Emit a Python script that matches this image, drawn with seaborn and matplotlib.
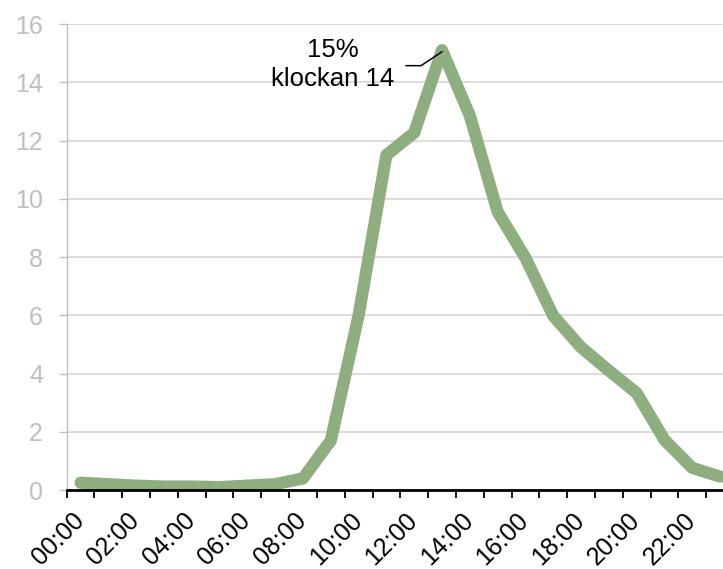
import matplotlib
matplotlib.use("Agg")
import matplotlib.pyplot as plt
import matplotlib.transforms as mtransforms
import seaborn as sns
import numpy as np
import pandas as pd

# Share of the day's total per hour (percent)
hours = [f"{h:02d}:00" for h in range(24)]
share = [0.25, 0.2, 0.15, 0.12, 0.12, 0.1, 0.15, 0.2, 0.4, 1.7, 6.0, 11.5,
         12.27, 15.1, 12.85, 9.55, 7.97, 5.98, 4.9, 4.1, 3.33, 1.72, 0.76, 0.46]
peak_label_hour = "klockan 14"
y_ticks = [0, 2, 4, 6, 8, 10, 12, 14, 16]

df = pd.DataFrame({"pos": np.arange(len(hours)), "hour": hours, "share": share})

sns.set_theme(style="white")
plt.rcParams["font.family"] = ["Liberation Sans", "DejaVu Sans"]

fig = plt.figure(figsize=(7.23, 5.69), dpi=100)
ax = fig.add_axes([0.0922, 0.1388, 0.923, 0.819])

green = "#8EAE80"
sns.lineplot(data=df, x="pos", y="share", ax=ax, color=green, linewidth=8.8,
             solid_capstyle="round", solid_joinstyle="round", zorder=3)

ax.set_xlim(-0.5, len(hours) - 0.5)
ax.set_ylim(y_ticks[0], y_ticks[-1])
ax.set_xlabel("")
ax.set_ylabel("")

# y axis: light grey labels, gridlines
grey = "#BFBFBF"
ax.set_yticks(y_ticks)
ax.set_yticklabels([str(v) for v in y_ticks])
ax.tick_params(axis="y", colors=grey, labelsize=18, length=6, width=1, pad=11,
               left=True, direction="out")
ax.yaxis.grid(True, color="#D9D9D9", linewidth=1.3, zorder=0)
ax.xaxis.grid(False)

# x axis: labels every second hour at category centres, marks on boundaries
ax.set_xticks(df["pos"][::2])
ax.set_xticks(np.arange(len(hours) + 1) - 0.5, minor=True)
ax.tick_params(axis="x", which="major", length=0, pad=12.8, labelsize=18,
               labelcolor="black")
ax.tick_params(axis="x", which="minor", length=6, width=1.3, color="black",
               bottom=True, direction="out")
ax.set_xticklabels(df["hour"][::2], rotation=45, ha="right",
                   rotation_mode="anchor", color="black", fontsize=18)
shift = mtransforms.ScaledTranslation(-6.5 / 72, 0, fig.dpi_scale_trans)
for lbl in ax.get_xticklabels():
    lbl.set_transform(lbl.get_transform() + shift)

for side in ["top", "right"]:
    ax.spines[side].set_visible(False)
ax.spines["left"].set_color(grey)
ax.spines["left"].set_linewidth(1)
ax.spines["bottom"].set_color("black")
ax.spines["bottom"].set_linewidth(2)
ax.spines["bottom"].set_zorder(4)

# peak annotation
peak_i = int(np.argmax(share))
peak_v = share[peak_i]
ax.text(9.08, 14.6, f"{round(peak_v)}%\n{peak_label_hour}", ha="center",
        va="center", fontsize=18.5, color="black", linespacing=1.25)
ax.annotate("", xy=(peak_i, peak_v - 0.05), xytext=(11.7, 14.57),
            arrowprops=dict(arrowstyle="-", color="black", linewidth=1.1,
                            shrinkA=0, shrinkB=0,
                            connectionstyle="angle,angleA=0,angleB=33.7,rad=0"),
            zorder=5)

fig.savefig("out.png", dpi=100)
